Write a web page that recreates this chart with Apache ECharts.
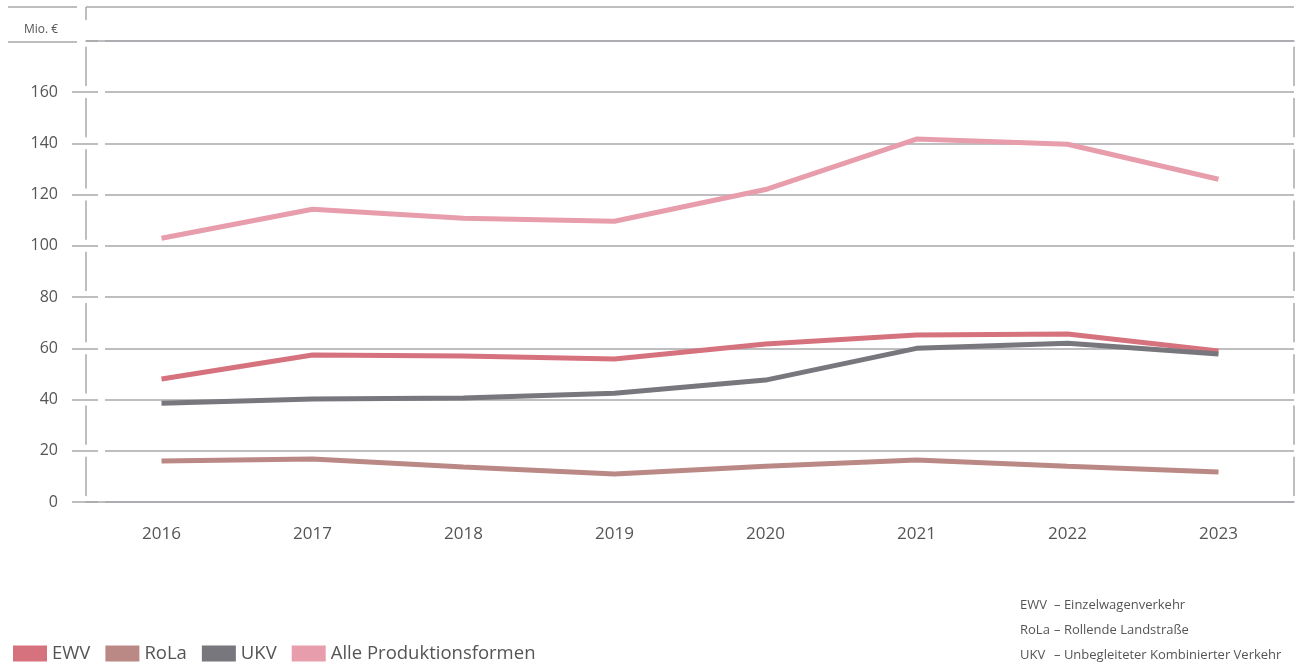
<!DOCTYPE html>
<html>
<head>
<meta charset="utf-8">
<title>Produktionsformen</title>
<script src="https://cdn.jsdelivr.net/npm/echarts@6/dist/echarts.min.js"></script>
<style>
  html, body { margin: 0; padding: 0; background: #fff; }
  #main { width: 1302px; height: 663px; }
</style>
</head>
<body>
<div id="main"></div>
<script>
// Werte in Mio. €
const years = ['2016', '2017', '2018', '2019', '2020', '2021', '2022', '2023']
const ewv = [48, 57.4, 57, 55.8, 61.7, 65.2, 65.6, 59]
const rola = [16, 16.8, 13.7, 10.9, 14, 16.4, 14, 11.7]
const ukv = [38.6, 40.2, 40.6, 42.5, 47.6, 60, 62, 57.8]
const alle = [103, 114.3, 110.8, 109.6, 122, 141.7, 139.7, 126]
const yTicks = { min: 0, max: 180, step: 20 }
const notes = [
  ['EWV', 'Einzelwagenverkehr'],
  ['RoLa', 'Rollende Landstraße'],
  ['UKV', 'Unbegleiteter Kombinierter Verkehr']
]

const font = 'Open Sans'
const axisGrey = '#a9a9ad'
const textGrey = '#555'

let myChart = echarts.init(document.getElementById('main'))

const mkLine = (name, data, color) => ({
  name: name,
  type: 'line',
  data: data,
  symbol: 'none',
  lineStyle: { width: 5, color: color },
  itemStyle: { color: color }
})

const frame = (x1, y1, x2, y2) => ({
  type: 'line',
  shape: { x1: x1, y1: y1, x2: x2, y2: y2 },
  style: { stroke: axisGrey, lineWidth: 1.5 }
})

let option = {
  animation: false,
  textStyle: { fontFamily: font },
  title: [
    {
      text: 'Mio. €',
      left: 19, top: 19,
      textStyle: { fontSize: 12, fontWeight: 'normal', color: textGrey, fontFamily: font }
    },
    {
      text: notes.map(n => '{a|' + n[0] + '}– ' + n[1]).join('\n'),
      left: 1015, top: 588,
      textStyle: {
        fontSize: 13, fontWeight: 'normal', color: textGrey, fontFamily: font, lineHeight: 25,
        rich: { a: { width: 34, fontSize: 13, color: textGrey, fontFamily: font } }
      }
    }
  ],
  legend: {
    left: 8, top: 639,
    icon: 'rect',
    itemWidth: 34, itemHeight: 16, itemGap: 15,
    textStyle: { fontSize: 18.5, color: textGrey, fontFamily: font },
    data: ['EWV', 'RoLa', 'UKV', 'Alle Produktionsformen']
  },
  grid: { left: 86, right: 8, top: 41, bottom: 161 },
  graphic: [
    frame(8, 7, 77, 7),
    frame(86, 7, 1294, 7),
    frame(86, 7, 86, 20),
    frame(8, 42, 77, 42)
  ],
  xAxis: [
    {
      type: 'category', data: years, position: 'bottom',
      axisLine: { lineStyle: { color: axisGrey, width: 1.5 } },
      axisTick: { length: 13, lineStyle: { color: axisGrey, width: 1.5 } },
      axisLabel: { margin: 24, fontSize: 17, color: textGrey, fontFamily: font }
    },
    {
      type: 'category', data: years, position: 'bottom',
      axisLine: { show: false },
      axisTick: { inside: true, length: 12, lineStyle: { color: axisGrey, width: 1.5 } },
      axisLabel: { show: false }
    },
    {
      type: 'category', data: years, position: 'top',
      axisLine: { lineStyle: { color: axisGrey, width: 1.5 } },
      axisTick: { inside: true, length: 13, lineStyle: { color: axisGrey, width: 1.5 } },
      axisLabel: { show: false }
    }
  ],
  yAxis: [
    {
      type: 'value', position: 'left',
      min: yTicks.min, max: yTicks.max, interval: yTicks.step,
      axisLine: { show: true, lineStyle: { color: axisGrey, width: 1.5, type: [38.25, 13], dashOffset: 44.75 } },
      axisTick: { show: true, length: 14, lineStyle: { color: axisGrey, width: 1.5 } },
      axisLabel: { margin: 28, fontSize: 16, color: textGrey, fontFamily: font, showMaxLabel: false },
      splitLine: { lineStyle: { color: axisGrey, width: 1.5, type: [12, 7, 2000, 0] } }
    },
    {
      type: 'value', position: 'right',
      min: yTicks.min, max: yTicks.max, interval: yTicks.step,
      axisLine: { show: true, lineStyle: { color: axisGrey, width: 1.5, type: [38.25, 13], dashOffset: 44.75 } },
      axisTick: { show: false },
      axisLabel: { show: false },
      splitLine: { show: false }
    }
  ],
  series: [
    mkLine('EWV', ewv, '#d6727e'),
    mkLine('RoLa', rola, '#ba8985'),
    mkLine('UKV', ukv, '#77777d'),
    mkLine('Alle Produktionsformen', alle, '#e79dab')
  ]
}

myChart.setOption(option)
</script>
</body>
</html>
